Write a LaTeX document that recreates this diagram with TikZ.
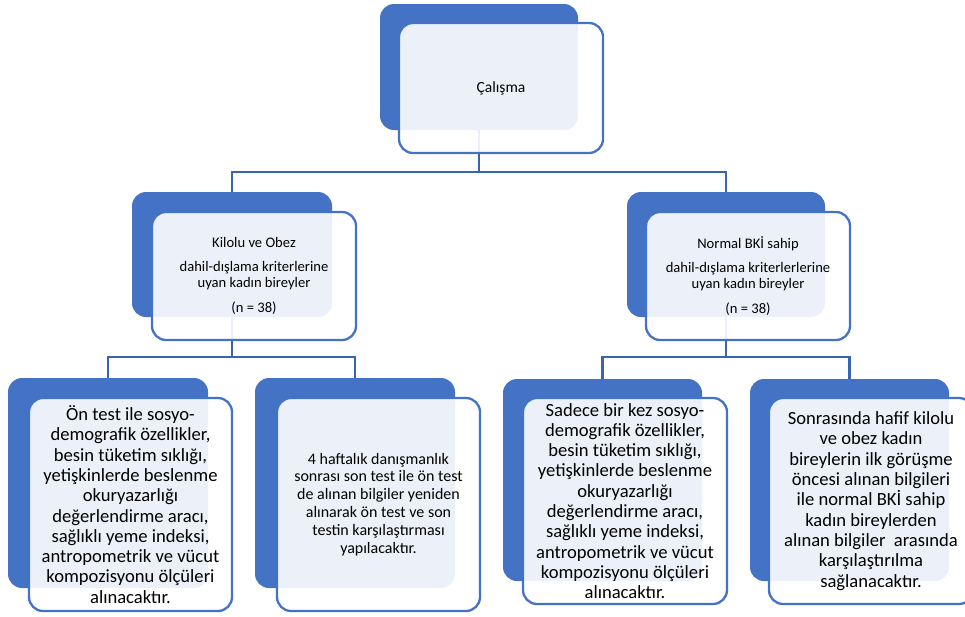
\documentclass[tikz,border=0pt]{standalone}
\usepackage{fontspec}
\setmainfont{Carlito}
\definecolor{smartblue}{HTML}{4472C4}
\definecolor{linkblue}{HTML}{3864B0}

\begin{document}
\begin{tikzpicture}[x=1pt,y=-1pt,
    backbox/.style={fill=smartblue,rounded corners=14pt,inner sep=0pt},
    frontbox/.style={draw=smartblue,line width=2.3pt,fill=white,fill opacity=0.9,
      text opacity=1,rounded corners=14pt,align=center,inner sep=0pt},
    small/.style={font=\fontsize{14.6}{16}\selectfont},
    large/.style={font=\fontsize{18.6}{20.3}\selectfont},
    link/.style={draw=linkblue,line width=2.6pt}]
    \useasboundingbox (0,0) rectangle (965,616);

    % Back boxes
    \node[backbox,minimum width=198pt,minimum height=126pt] (calB) at (479,67) {};
    \node[backbox,minimum width=200pt,minimum height=125pt] (kiloB) at (232,254.5) {};
    \node[backbox,minimum width=198pt,minimum height=125pt] (normB) at (726,254.5) {};
    \node[backbox,minimum width=200pt,minimum height=210pt] (onB) at (108,483) {};
    \node[backbox,minimum width=200pt,minimum height=210pt] (sonB) at (355,483) {};
    \node[backbox,minimum width=199pt,minimum height=202pt] (birB) at (602.5,480) {};
    \node[backbox,minimum width=199pt,minimum height=202pt] (karB) at (849.5,480) {};

    % Connectors
    \coordinate (calbar) at (479,172);
    \coordinate (kilobar) at (232,357);
    \coordinate (normbar) at (726,357);
    \draw[link] (calB.south) -- (calbar) -| (kiloB.north);
    \draw[link] (calbar) -| (normB.north);
    \draw[link] (kiloB.south) -- (kilobar) -| (onB.north);
    \draw[link] (kilobar) -| (sonB.north);
    \draw[link] (normB.south) -- (normbar) -| (birB.north);
    \draw[link] (normbar) -| (karB.north);

    % Front boxes
    \node[frontbox,font=\fontsize{15.5}{18}\selectfont,minimum width=204pt,minimum height=130pt] (cal) at (501,88) {Çalışma};
    \node[frontbox,small,minimum width=204pt,minimum height=128pt] (kilo) at (254,276)
      {Kilolu ve Obez\\[8pt]dahil-dışlama kriterlerine\\uyan kadın bireyler\\[9pt](n = 38)};
    \node[frontbox,small,minimum width=204pt,minimum height=128pt] (norm) at (748,276)
      {Normal BKİ sahip\\[8pt]dahil-dışlama kriterlerlerine\\uyan kadın bireyler\\[9pt](n = 38)};
    \node[frontbox,large,minimum width=203pt,minimum height=213pt] (on) at (130.5,504.5)
      {Ön test ile sosyo-\\demografik özellikler,\\besin tüketim sıklığı,\\yetişkinlerde beslenme\\okuryazarlığı\\değerlendirme aracı,\\sağlıklı yeme indeksi,\\antropometrik ve vücut\\kompozisyonu ölçüleri\\alınacaktır.};
    \node[frontbox,font=\fontsize{16}{17.9}\selectfont,minimum width=203pt,minimum height=213pt] (son) at (378.5,504.5)
      {4 haftalık danışmanlık\\sonrası son test ile ön test\\de alınan bilgiler yeniden\\alınarak ön test ve son\\testin karşılaştırması\\yapılacaktır.};
    \node[frontbox,large,minimum width=204pt,minimum height=206pt] (bir) at (625,501)
      {Sadece bir kez sosyo-\\demografik özellikler,\\besin tüketim sıklığı,\\yetişkinlerde beslenme\\okuryazarlığı\\değerlendirme aracı,\\sağlıklı yeme indeksi,\\antropometrik ve vücut\\kompozisyonu ölçüleri\\alınacaktır.};
    \node[frontbox,large,minimum width=204pt,minimum height=206pt] (kar) at (871,501)
      {Sonrasında hafif kilolu\\ve obez kadın\\bireylerin ilk görüşme\\öncesi alınan bilgileri\\ile normal BKİ sahip\\kadın bireylerden\\alınan bilgiler\ \ arasında\\karşılaştırılma\\sağlanacaktır.};
\end{tikzpicture}
\end{document}
